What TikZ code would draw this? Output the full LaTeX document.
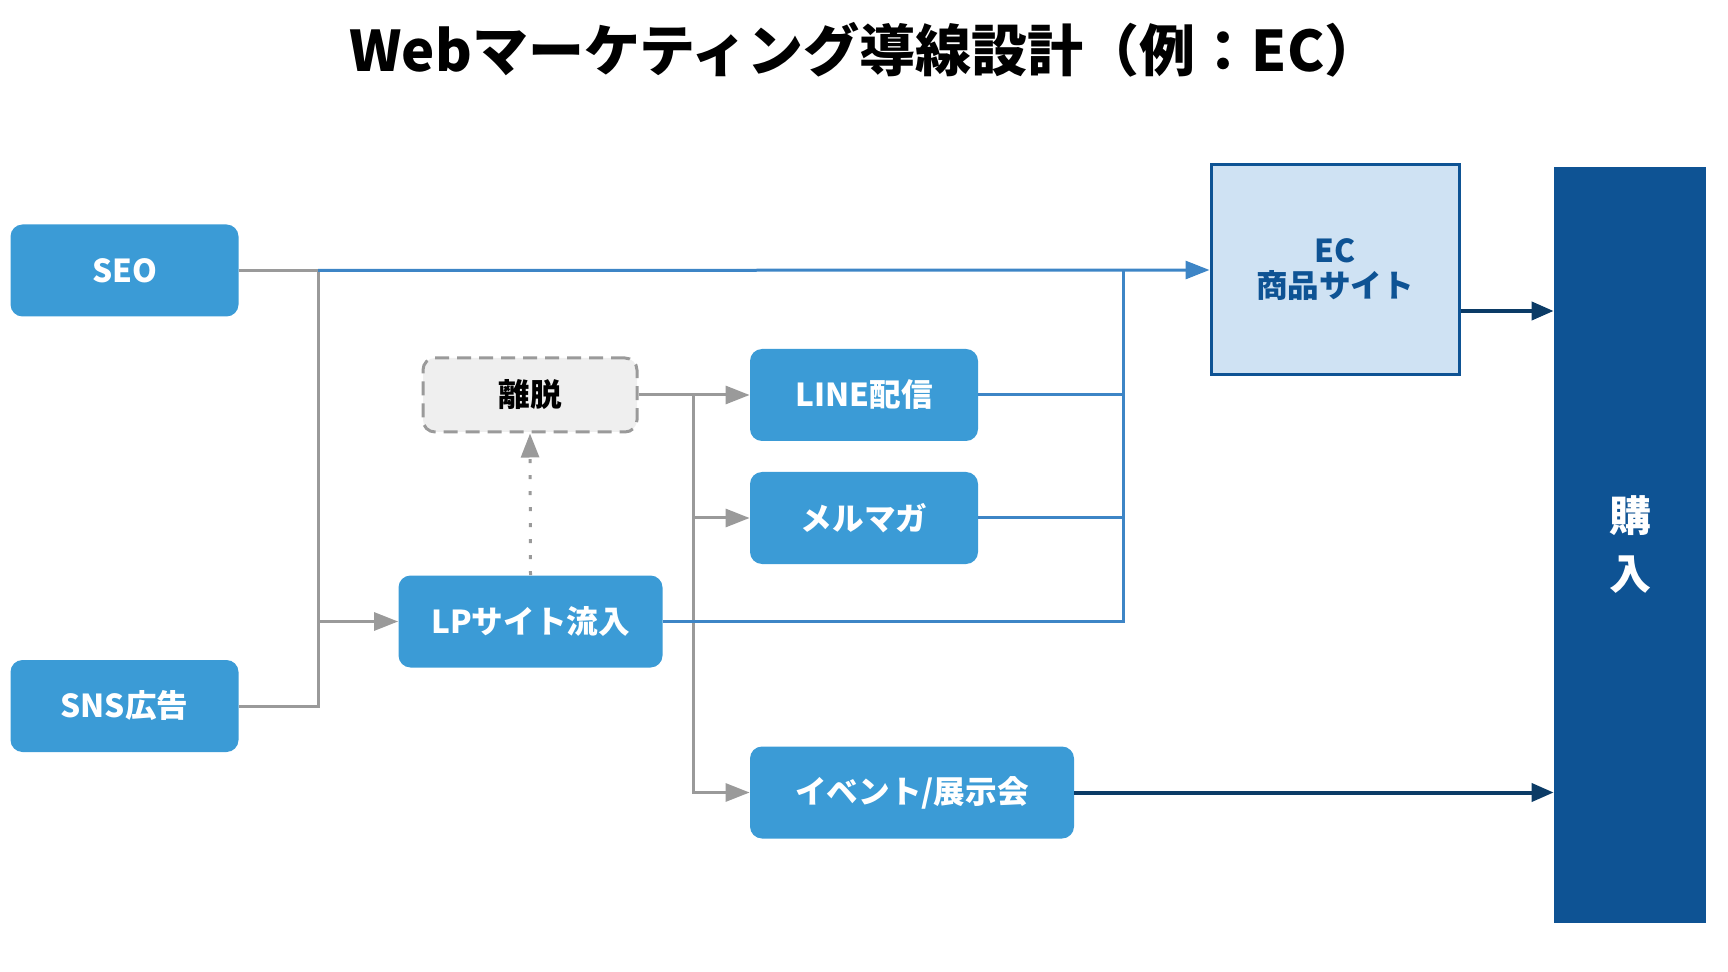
\documentclass[tikz,border=0pt]{standalone}
\usepackage{fontspec}
\setmainfont{Noto Sans CJK JP}
\usepackage{tikz}
\usetikzlibrary{arrows.meta,positioning,calc}
\definecolor{cBox} {HTML}{3B9BD6}
\definecolor{cLink}{HTML}{3D85C6}
\definecolor{cDeep}{HTML}{0E5394}
\definecolor{cEcBg}{HTML}{CFE2F3}
\definecolor{cNavy}{HTML}{0B3B66}
\definecolor{cGry} {HTML}{9A9A9A}
\definecolor{cOff} {HTML}{EFEFEF}
\tikzset{
  blk/.style  ={fill=cBox,rounded corners=6pt,align=center,text=white,
                font=\fontsize{15.8}{18}\selectfont\bfseries,
                minimum width=114pt,minimum height=46pt,inner sep=2pt},
  quit/.style ={blk,fill=cOff,draw=cGry,line width=1.5pt,
                dash pattern=on 7pt off 4pt,text=black,
                minimum width=107pt,minimum height=37pt},
  site/.style ={draw=cDeep,fill=cEcBg,line width=1.5pt,align=center,
                text=cDeep,font=\fontsize{15.8}{17.5}\selectfont\bfseries,
                minimum width=124pt,minimum height=105pt},
  goal/.style ={fill=cDeep,text=white,align=center,
                font=\fontsize{21}{29}\selectfont\bfseries,
                minimum width=76pt,minimum height=378pt},
  gln/.style  ={draw=cGry,line width=1.5pt},
  gar/.style  ={gln,-{Triangle[length=12pt,width=9pt]}},
  dar/.style  ={gar,dash pattern=on 2pt off 6pt},
  bln/.style  ={draw=cLink,line width=1.5pt},
  bar/.style  ={bln,-{Triangle[length=12pt,width=9pt]}},
  kar/.style  ={draw=cNavy,line width=2pt,-{Triangle[length=11pt,width=9pt]}},
}

\begin{document}
\begin{tikzpicture}[x=0.5pt, y=-0.5pt]
\useasboundingbox (0,0) rectangle (1728,972);

\node[font=\fontsize{28}{30}\selectfont\bfseries] (title) at (865,50)
  {Webマーケティング導線設計（例：EC）};

\node[blk] (seo)  at (124.5,270.5) {SEO};
\node[blk] (sns)  at (124.5,706)   {SNS広告};
\node[blk,minimum width=132pt] (lp) at (530.5,621.5) {LPサイト流入};
\node[quit] (exit) at (530,395)    {離脱};
\node[blk] (line) at (864,395)     {LINE配信};
\node[blk] (mag)  at (864,518)     {メルマガ};
\node[blk,minimum width=162pt] (evt) at (912,792.5) {イベント/展示会};
\node[site] (ec)  at (1335,270)    {EC\\商品サイト};
\node[goal] (buy) at (1630,545)    {購\\入};

\coordinate (j1) at (318,270.5);   % SEO / SNS junction
\coordinate (j2) at (693,395);     % exit fan-out
\coordinate (j3) at (1123,270);    % collector to EC

% gray flows
\draw[gln] (seo.east) -- (j1);
\draw[gln] (sns.east) -| (j1);
\draw[gar] (j1 |- lp.west) -- (lp.west);
\draw[dar] (lp.north) -- (exit.south);
\draw[gln] (exit.east) -- (j2);
\draw[gar] (j2) -- (line.west);
\draw[gar] (j2 |- mag.west) -- (mag.west);
\draw[gar] (j2) |- (evt.west);

% blue flows
\draw[bar] (j1) -- (ec.west);
\draw[bln] (lp.east) -| (j3);
\draw[bln] (line.east) -- (line.east -| j3);
\draw[bln] (mag.east) -- (mag.east -| j3);

% to purchase
\coordinate (ecout) at ($(ec.east)+(0,41)$);
\draw[kar] (ecout) -- (ecout -| buy.west);
\draw[kar] (evt.east) -- (evt.east -| buy.west);
\end{tikzpicture}
\end{document}
